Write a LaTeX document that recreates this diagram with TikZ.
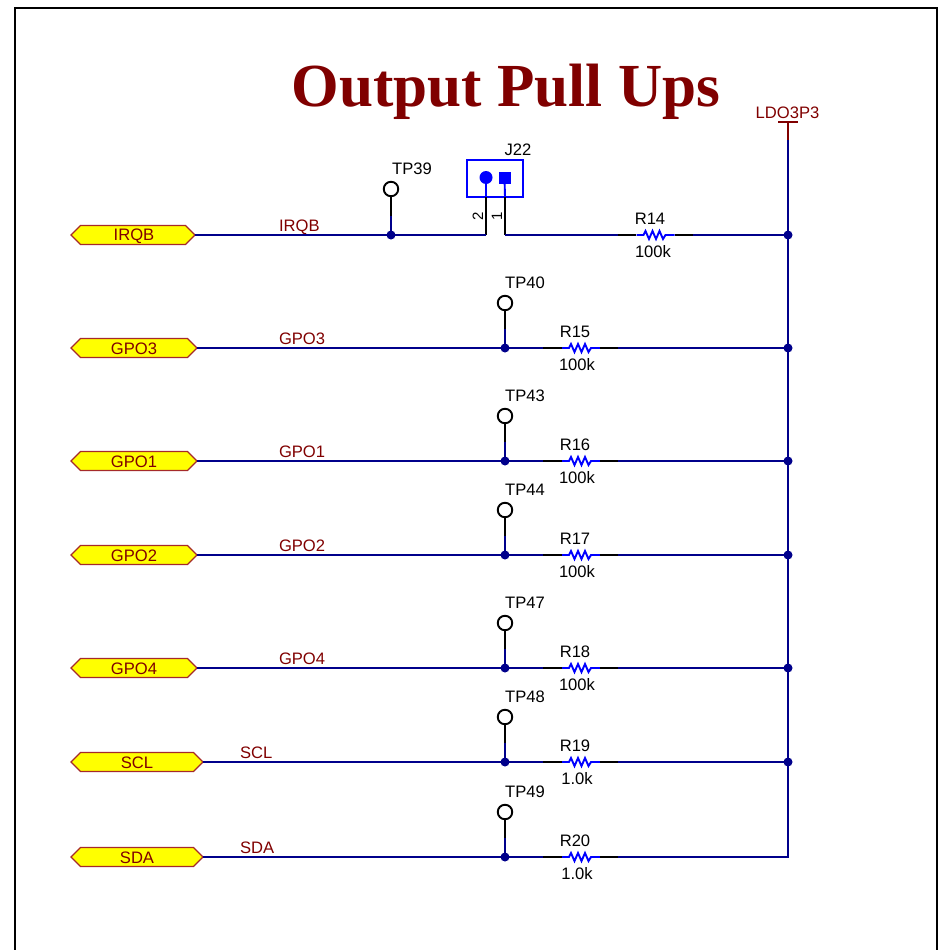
\documentclass[tikz,border=0pt]{standalone}
\usepackage{fontspec}
\setmainfont{Liberation Sans}
\newfontfamily\titlefont{Liberation Serif}
\usetikzlibrary{shapes.symbols}
\definecolor{wirec}{RGB}{0,0,139}
\definecolor{netred}{RGB}{128,0,0}
\definecolor{partblue}{RGB}{0,0,255}
\definecolor{portedge}{RGB}{165,42,42}
\definecolor{portfill}{RGB}{255,255,0}
\tikzset{
  x=1pt,y=-1pt,
  every node/.style={font=\fontsize{16.6}{18}\selectfont,inner sep=0pt,outer sep=0pt},
  wire/.style={draw=wirec,line width=2pt,line join=miter},
  pin/.style={draw=black,line width=2pt},
  partline/.style={draw=partblue,line width=1.9pt},
  dot/.style={circle,fill=wirec,minimum size=9pt},
  netlabel/.style={text=netred,anchor=base west},
  reftext/.style={text=black,anchor=base},
  portshape/.style={signal,signal to=west and east,signal pointer angle=90,draw=portedge,fill=portfill,
     line width=1.3pt,minimum height=19pt,text=netred,inner sep=0pt},
  tpoint/.style={circle,draw=black,fill=white,line width=1.9pt,minimum size=14.5pt},
  pics/zigzag/.style={code={
    \draw[partline,line join=miter] (-19,0) -- (-12,0) -- (-10,-4) -- (-6.5,4) -- (-3,-4) -- (0.5,4) -- (4,-4) -- (7.5,4) -- (10,0) -- (19,0);
  }}
}
\begin{document}
\begin{tikzpicture}
\useasboundingbox (0,0) rectangle (947,950);
\clip (0,0) rectangle (947,950);
% frame
\draw[black,line width=2.2pt] (15,950) -- (15,8) -- (937,8) -- (937,950);
% title
\node[font=\titlefont\bfseries\fontsize{61.2}{66}\selectfont,text=netred,anchor=base] (title) at (506,106) {Output Pull Ups};
% power rail
\coordinate (railtop) at (788,140);
\coordinate (railcap) at (788,122);
\coordinate (capl) at (778,122);
\coordinate (capr) at (798,122);
\node[text=netred] (ldo) at (787.5,113) {LDO3P3};
\draw[netred,line width=1.8pt] (capl) -- (capr);
\draw[netred,line width=2pt] (railcap) -- (railtop);

% signal rows
\foreach \id/\ry/\lab/\tp/\tpy/\rn/\rv/\pw/\px/\nx in {
  gpoiii/348/GPO3/TP40/303/R15/100k/126/134/279,
  gpoi/461/GPO1/TP43/416/R16/100k/126/134/279,
  gpoii/555/GPO2/TP44/510/R17/100k/126/134/279,
  gpoiv/668/GPO4/TP47/623/R18/100k/126/134/279,
  scl/762/SCL/TP48/717/R19/1.0k/132/137/240,
  sda/857/SDA/TP49/812/R20/1.0k/132/137/240}{
  \node[portshape,minimum width=\pw pt,anchor=west] (port\id) at (71,\ry) {};
  \node[text=netred] (porttxt\id) at (\px,\ry+1) {\lab};
  \node[netlabel] (net\id) at (\nx,\ry-4) {\lab};
  \node[dot] (j\id) at (505,\ry) {};
  \node[tpoint] (tp\id) at (505,\tpy) {};
  \node[reftext] (tpl\id) at (525,\tpy-15) {\tp};
  \coordinate (s\id) at (505,\ry-19);
  \coordinate (ra\id) at (543,\ry);
  \coordinate (rb\id) at (562,\ry);
  \coordinate (rc\id) at (600,\ry);
  \coordinate (rd\id) at (618,\ry);
  \coordinate (rail\id) at (788,\ry);
  \pic at (581,\ry) {zigzag};
  \node[reftext] (rn\id) at (575,\ry-11) {\rn};
  \node[reftext] (rv\id) at (577,\ry+22) {\rv};
  \draw[wire] (port\id.east) -- (j\id.center) -- (ra\id);
  \draw[pin] (ra\id) -- (rb\id);
  \draw[pin] (rc\id) -- (rd\id);
  \draw[wire] (rd\id) -- (rail\id);
  \draw[pin] (tp\id.south) -- (s\id);
  \draw[wire] (s\id) -- (j\id.center);
}

% IRQB row
\node[portshape,minimum width=124pt,anchor=west] (portirqb) at (71,235) {};
\node[text=netred] (porttxtirqb) at (134,236) {IRQB};
\node[netlabel] (netirqb) at (279,231) {IRQB};
\node[dot] (jirqb) at (391,235) {};
\node[tpoint] (tpirqb) at (391,189) {};
\node[reftext] (tplirqb) at (412,174) {TP39};
\coordinate (sirqb) at (391,216);
\draw[pin] (tpirqb.south) -- (sirqb);
\draw[wire] (sirqb) -- (jirqb.center);

% J22
\node[draw=partblue,line width=2pt,minimum width=56pt,minimum height=37pt] (jbox) at (495,178) {};
\node[reftext] (jname) at (518,155) {J22};
\node[circle,fill=partblue,minimum size=13pt] (pinb) at (486,177.5) {};
\node[rectangle,fill=partblue,minimum size=12pt] (pina) at (504.5,177.5) {};
\coordinate (bb) at (486,197);
\coordinate (ab) at (505,197);
\coordinate (bw) at (486,235);
\coordinate (aw) at (505,235);
\draw[partline] (pinb.center) -- (bb);
\draw[partline] (pina.center) -- (ab);
\draw[pin] (bb) -- (bw);
\draw[pin] (ab) -- (aw);
\node[rotate=90,font=\fontsize{15}{16}\selectfont] (pnb) at (478,216) {2};
\node[rotate=90,font=\fontsize{15}{16}\selectfont] (pna) at (497,216) {1};
\coordinate (r14a) at (618,235);
\coordinate (r14b) at (636,235);
\coordinate (r14c) at (675,235);
\coordinate (r14d) at (693,235);
\coordinate (railirqb) at (788,235);
\pic at (655.5,235) {zigzag};
\node[reftext] (r14n) at (650,224) {R14};
\node[reftext] (r14v) at (653,257) {100k};
\draw[wire] (portirqb.east) -- (jirqb.center) -- (bw);
\draw[wire] (aw) -- (r14a);
\draw[pin] (r14a) -- (r14b);
\draw[pin] (r14c) -- (r14d);
\draw[wire] (r14d) -- (railirqb);

% rail with its junctions
\draw[wire] (railtop) -- (railsda) -- (rdsda);
\foreach \id in {irqb,gpoiii,gpoi,gpoii,gpoiv,scl}{
  \node[dot] (rj\id) at (rail\id) {};
}
\end{tikzpicture}
\end{document}
